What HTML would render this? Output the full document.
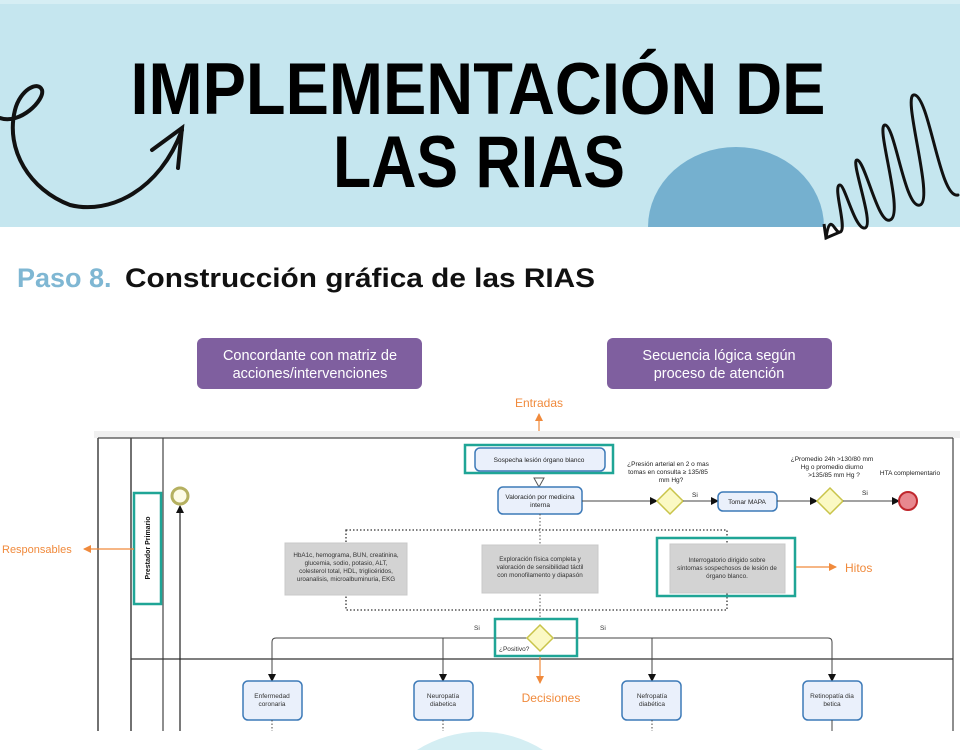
<!DOCTYPE html>
<html><head><meta charset="utf-8"><style>
html,body{margin:0;padding:0;background:#fff;width:960px;height:750px;overflow:hidden;}
svg{display:block;font-family:"Liberation Sans",sans-serif;}
</style></head><body>
<svg width="960" height="750" viewBox="0 0 960 750" xmlns="http://www.w3.org/2000/svg">
<defs>
<marker id="ab" markerWidth="8" markerHeight="8" refX="7" refY="4" orient="auto" markerUnits="userSpaceOnUse"><path d="M0,0 L8,4 L0,8z" fill="#111"/></marker>
<marker id="ao" markerWidth="8" markerHeight="8" refX="7" refY="4" orient="auto" markerUnits="userSpaceOnUse"><path d="M0,0 L8,4 L0,8z" fill="#f08a3c"/></marker>
</defs>
<rect x="0" y="0" width="960" height="227" fill="#c5e6ef"/>
<rect x="0" y="0" width="960" height="4" fill="#d6eef4"/>
<path d="M648,227 A88,80 0 0 1 824,227 Z" fill="#75b0cf"/>
<text x="478" y="114" font-size="73" font-weight="bold" text-anchor="middle" textLength="695" lengthAdjust="spacingAndGlyphs" fill="#000">IMPLEMENTACIÓN DE</text>
<text x="479" y="187" font-size="73" font-weight="bold" text-anchor="middle" textLength="292" lengthAdjust="spacingAndGlyphs" fill="#000">LAS RIAS</text>
<path d="M0,118 C20,125 45,100 42,90 C38,80 20,90 15,110 C5,150 30,190 70,205 C110,215 160,190 182,130" fill="none" stroke="#111" stroke-width="4" stroke-linecap="round"/>
<path d="M152,150 L182,128 L178,168" fill="none" stroke="#111" stroke-width="4" stroke-linecap="round"/>
<path d="M958,195 C940,200 930,100 915,95 C900,90 935,200 920,205 C905,210 895,125 885,125 C875,125 905,215 890,220 C878,225 865,160 857,160 C850,160 875,225 865,228 C855,230 845,185 840,185 C832,185 848,230 840,232 C835,234 830,210 826,238" fill="none" stroke="#111" stroke-width="3" stroke-linecap="round"/>
<path d="M824,224 L826,238 L840,232" fill="none" stroke="#111" stroke-width="3"/>
<text x="17" y="287" font-size="27" font-weight="bold" fill="#7fb7d3">Paso 8.</text>
<text x="125" y="287" font-size="27" font-weight="bold" fill="#111" textLength="470" lengthAdjust="spacingAndGlyphs">Construcción gráfica de las RIAS</text>
<rect x="197" y="338" width="225" height="51" rx="6" fill="#7f5f9f"/>
<text x="310" y="360" font-size="14.5" fill="#fff" text-anchor="middle">Concordante con matriz de</text>
<text x="310" y="378" font-size="14.5" fill="#fff" text-anchor="middle">acciones/intervenciones</text>
<rect x="607" y="338" width="225" height="51" rx="6" fill="#7f5f9f"/>
<text x="719" y="360" font-size="14.5" fill="#fff" text-anchor="middle">Secuencia lógica según</text>
<text x="719" y="378" font-size="14.5" fill="#fff" text-anchor="middle">proceso de atención</text>
<text x="539" y="407" font-size="12" fill="#f08a3c" text-anchor="middle">Entradas</text>
<line x1="539" y1="445" x2="539" y2="414" stroke="#f08a3c" stroke-width="1.2" marker-end="url(#ao)"/>
<path d="M417,750 A118,118 0 0 1 543,750 Z" fill="#d4eef3"/>
<rect x="94" y="431" width="866" height="7" fill="#f0f0f0"/>
<rect x="98" y="438" width="855" height="293" fill="#fff"/>
<line x1="98" y1="438" x2="953" y2="438" stroke="#666" stroke-width="1.5"/>
<line x1="98" y1="438" x2="98" y2="731" stroke="#444" stroke-width="1.5"/>
<line x1="131" y1="438" x2="131" y2="731" stroke="#444" stroke-width="1.5"/>
<line x1="163" y1="438" x2="163" y2="731" stroke="#444" stroke-width="1.2"/>
<line x1="953" y1="438" x2="953" y2="731" stroke="#444" stroke-width="1.2"/>
<line x1="131" y1="659" x2="953" y2="659" stroke="#333" stroke-width="1.2"/>
<rect x="134" y="493" width="27" height="111" fill="#fff" stroke="#1fa596" stroke-width="2.5"/>
<text transform="translate(150,548) rotate(-90)" font-size="7" font-weight="bold" text-anchor="middle" fill="#111">Prestador Primario</text>
<line x1="134" y1="549" x2="84" y2="549" stroke="#f08a3c" stroke-width="1.2" marker-end="url(#ao)"/>
<text x="2" y="553" font-size="11" fill="#f08a3c">Responsables</text>
<line x1="180" y1="731" x2="180" y2="506" stroke="#222" stroke-width="1.2" marker-end="url(#ab)"/>
<circle cx="180" cy="496" r="8" fill="#fdfbe6" stroke="#b5b060" stroke-width="3"/>
<rect x="465" y="445" width="148" height="28" fill="none" stroke="#1fa596" stroke-width="2.5"/>
<rect x="475" y="448" width="130" height="23" rx="5" fill="#eaf0fb" stroke="#3d7ab8" stroke-width="1.5"/>
<text x="539" y="462" font-size="6.5" text-anchor="middle" fill="#222">Sospecha lesión órgano blanco</text>
<path d="M534,478 L544,478 L539,487z" fill="#fff" stroke="#555"/>
<rect x="498" y="487" width="84" height="27" rx="5" fill="#eaf0fb" stroke="#3d7ab8" stroke-width="1.5"/>
<text x="540" y="499" font-size="6.5" text-anchor="middle" fill="#222">Valoración por medicina</text>
<text x="540" y="507" font-size="6.5" text-anchor="middle" fill="#222">interna</text>
<line x1="582" y1="501" x2="657" y2="501" stroke="#444" stroke-width="1" marker-end="url(#ab)"/>
<path d="M670,488 L683,501 L670,514 L657,501z" fill="#fbf9c4" stroke="#c9c44a" stroke-width="1.5"/>
<text x="668" y="466" font-size="6.5" text-anchor="middle" fill="#222">¿Presión arterial en 2 o mas</text>
<text x="668" y="474" font-size="6.5" text-anchor="middle" fill="#222">tomas en consulta ≥ 135/85</text>
<text x="671" y="482" font-size="6.5" text-anchor="middle" fill="#222">mm Hg?</text>
<text x="692" y="497" font-size="6.5" fill="#222">Si</text>
<line x1="683" y1="501" x2="718" y2="501" stroke="#444" stroke-width="1" marker-end="url(#ab)"/>
<rect x="718" y="492" width="59" height="19" rx="5" fill="#eaf0fb" stroke="#3d7ab8" stroke-width="1.5"/>
<text x="747" y="504" font-size="6.5" text-anchor="middle" fill="#222">Tomar MAPA</text>
<line x1="777" y1="501" x2="817" y2="501" stroke="#444" stroke-width="1" marker-end="url(#ab)"/>
<path d="M830,488 L843,501 L830,514 L817,501z" fill="#fbf9c4" stroke="#c9c44a" stroke-width="1.5"/>
<text x="832" y="461" font-size="6.5" text-anchor="middle" fill="#222">¿Promedio 24h &gt;130/80 mm</text>
<text x="832" y="469" font-size="6.5" text-anchor="middle" fill="#222">Hg o promedio diurno</text>
<text x="834" y="477" font-size="6.5" text-anchor="middle" fill="#222">&gt;135/85 mm Hg ?</text>
<text x="862" y="495" font-size="6.5" fill="#222">Si</text>
<line x1="843" y1="501" x2="899" y2="501" stroke="#444" stroke-width="1" marker-end="url(#ab)"/>
<circle cx="908" cy="501" r="9" fill="#e8888f" stroke="#c0282e" stroke-width="2"/>
<text x="910" y="475" font-size="6.5" text-anchor="middle" fill="#222">HTA complementario</text>
<rect x="346" y="530" width="381" height="80" fill="none" stroke="#333" stroke-width="1.3" stroke-dasharray="1.5,2"/>
<line x1="540" y1="514" x2="540" y2="620" stroke="#555" stroke-width="1" stroke-dasharray="1.5,2"/>
<rect x="285" y="543" width="122" height="52" fill="#d3d3d3" stroke="#c8c8c8"/>
<text x="346" y="557" font-size="6.3" text-anchor="middle" fill="#333">HbA1c, hemograma, BUN, creatinina,</text>
<text x="346" y="565" font-size="6.3" text-anchor="middle" fill="#333">glucemia, sodio, potasio, ALT,</text>
<text x="346" y="573" font-size="6.3" text-anchor="middle" fill="#333">colesterol total, HDL, triglicéridos,</text>
<text x="346" y="581" font-size="6.3" text-anchor="middle" fill="#333">uroanalisis, microalbuminuria, EKG</text>
<rect x="482" y="545" width="116" height="48" fill="#d3d3d3" stroke="#c8c8c8"/>
<text x="540" y="561" font-size="6.3" text-anchor="middle" fill="#333">Exploración física completa y</text>
<text x="540" y="569" font-size="6.3" text-anchor="middle" fill="#333">valoración de sensibilidad táctil</text>
<text x="540" y="577" font-size="6.3" text-anchor="middle" fill="#333">con monofilamento y diapasón</text>
<rect x="670" y="544" width="115" height="49" fill="#d3d3d3" stroke="#c8c8c8"/>
<text x="727" y="562" font-size="6.3" text-anchor="middle" fill="#333">Interrogatorio dirigido sobre</text>
<text x="727" y="570" font-size="6.3" text-anchor="middle" fill="#333">síntomas sospechosos de lesión de</text>
<text x="727" y="578" font-size="6.3" text-anchor="middle" fill="#333">órgano blanco.</text>
<rect x="657" y="538" width="138" height="58" fill="none" stroke="#1fa596" stroke-width="2.5"/>
<line x1="796" y1="567" x2="836" y2="567" stroke="#f08a3c" stroke-width="1.2" marker-end="url(#ao)"/>
<text x="845" y="572" font-size="12" fill="#f08a3c">Hitos</text>
<path d="M272,681 L272,642 Q272,638 276,638 L828,638 Q832,638 832,642 L832,681" fill="none" stroke="#444" stroke-width="1"/>
<line x1="443" y1="638" x2="443" y2="681" stroke="#444" stroke-width="1" marker-end="url(#ab)"/>
<line x1="652" y1="638" x2="652" y2="681" stroke="#444" stroke-width="1" marker-end="url(#ab)"/>
<line x1="272" y1="660" x2="272" y2="681" stroke="#444" stroke-width="1" marker-end="url(#ab)"/>
<line x1="832" y1="660" x2="832" y2="681" stroke="#444" stroke-width="1" marker-end="url(#ab)"/>
<path d="M540,625 L553,638 L540,651 L527,638z" fill="#fbf9c4" stroke="#c9c44a" stroke-width="1.5"/>
<rect x="495" y="619" width="82" height="37" fill="none" stroke="#1fa596" stroke-width="2.5"/>
<text x="499" y="651" font-size="6.5" fill="#333">¿Positivo?</text>
<text x="474" y="630" font-size="6.5" fill="#333">Si</text>
<text x="600" y="630" font-size="6.5" fill="#333">Si</text>
<line x1="540" y1="657" x2="540" y2="683" stroke="#f08a3c" stroke-width="1.2" marker-end="url(#ao)"/>
<text x="551" y="702" font-size="12" fill="#f08a3c" text-anchor="middle">Decisiones</text>
<g font-size="6.5" text-anchor="middle" fill="#333">
<rect x="243" y="681" width="59" height="39" rx="5" fill="#eaf0fb" stroke="#3d7ab8" stroke-width="1.5"/>
<text x="272" y="698">Enfermedad</text><text x="272" y="706">coronaria</text>
<rect x="414" y="681" width="59" height="39" rx="5" fill="#eaf0fb" stroke="#3d7ab8" stroke-width="1.5"/>
<text x="443" y="698">Neuropatía</text><text x="443" y="706">diabetica</text>
<rect x="622" y="681" width="59" height="39" rx="5" fill="#eaf0fb" stroke="#3d7ab8" stroke-width="1.5"/>
<text x="652" y="698">Nefropatía</text><text x="652" y="706">diabética</text>
<rect x="803" y="681" width="59" height="39" rx="5" fill="#eaf0fb" stroke="#3d7ab8" stroke-width="1.5"/>
<text x="832" y="698">Retinopatía dia</text><text x="832" y="706">betica</text>
</g>
<g stroke="#444" stroke-width="1" stroke-dasharray="1.5,2">
<line x1="272" y1="720" x2="272" y2="731"/><line x1="443" y1="720" x2="443" y2="731"/><line x1="652" y1="720" x2="652" y2="731"/>
</g>
<line x1="832" y1="720" x2="832" y2="731" stroke="#444"/>
</svg>
</body></html>
